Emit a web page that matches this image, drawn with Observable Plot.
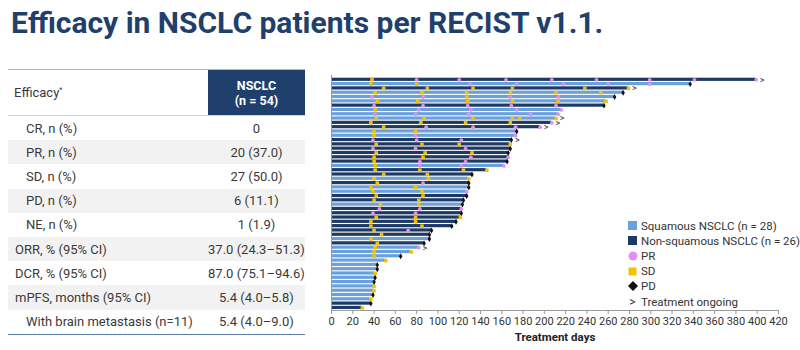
<!DOCTYPE html>
<html>
<head>
<meta charset="utf-8">
<script src="https://cdn.jsdelivr.net/npm/d3@7"></script>
<script src="https://cdn.jsdelivr.net/npm/@observablehq/plot@0.6"></script>
<style>
  html, body { margin: 0; padding: 0; background: #fff; }
  #page { position: relative; width: 800px; height: 350px; overflow: hidden; font-family: Roboto, "Noto Sans", sans-serif; }
  #title { position: absolute; left: 11px; top: 5px; font-size: 30px; font-weight: 700; color: #1f3f6d; letter-spacing: 0px; white-space: nowrap; }
  #tbl { position: absolute; left: 8px; top: 69px; width: 297px; border-collapse: collapse; font-size: 13px; color: #3a3a3a; }
  #tbl td { padding: 0; height: 24.2px; }
  #tbl tr.hdr td { height: 45px; }
  #tbl tr.hdr { border-top: 1px solid #a9b9cc; border-bottom: 1px solid #c9d3df; }
  #tbl tr.last { border-bottom: 1.5px solid #5d7da5; }
  #tbl td.lab { width: 194px; }
  #tbl td.val { width: 103px; text-align: center; }
  #tbl td.hv { background: #1f3f6d; color: #fff; font-weight: 700; font-size: 12.5px; line-height: 15px; text-align: center; }
  #tbl tr.g td { background: #f2f2f2; }
  #chart { position: absolute; left: 300px; top: 70px; }
  #legend { position: absolute; left: 624px; top: 218px; width: 176px; font-size: 11.5px; color: #333; }
  #legend .it { display: flex; align-items: center; height: 15.2px; white-space: nowrap; }
  #legend .sw { width: 17px; flex: none; display: flex; justify-content: center; align-items: center; }
</style>
</head>
<body>
<div id="page">
  <div id="title"></div>
  <table id="tbl"></table>
  <div id="chart"></div>
  <div id="legend"></div>
</div>
<script>
// ---- Table data ----
const tableHeader = ["Efficacy", "NSCLC", "(n = 54)"];
const tableLabels = ["CR, n (%)", "PR, n (%)", "SD, n (%)", "PD, n (%)", "NE, n (%)",
  "ORR, % (95% CI)", "DCR, % (95% CI)", "mPFS, months (95% CI)", "With brain metastasis (n=11)"];
const tableIndent = [1, 1, 1, 1, 1, 0, 0, 0, 1];
const tableValues = ["0", "20 (37.0)", "27 (50.0)", "6 (11.1)", "1 (1.9)",
  "37.0 (24.3\u201351.3)", "87.0 (75.1\u201394.6)", "5.4 (4.0\u20135.8)", "5.4 (4.0\u20139.0)"];

// ---- Swimmer data (top to bottom) ----
// S = squamous, N = non-squamous
const histology = ["N","S","N","S","S","S","N","S","S","S","N","N","S","S","N","N","N","N","N","N",
  "S","N","N","S","N","S","S","N","N","S","N","N","N","N","N","N","N","S","N","S",
  "S","S","S","S","S","S","S","S","S","S","S","S","N","N"];
const lastDay = [399,337,279,274,266,258,256,216,213,211,207,196,174,173,169,168,168,166,166,165,
  162,146,132,129,129,129,127,127,124,123,122,122,121,117,113,94,92,92,87,82,
  75,65,51,43,43,41,41,40,40,40,39,37,37,29];
const ongoing = [1,0,1,0,0,0,0,0,0,1,1,1,0,0,1,0,0,0,0,0,
  0,0,0,0,0,0,0,0,0,0,0,0,0,0,0,0,0,0,0,1,
  0,0,0,0,0,0,0,0,0,0,0,0,0,0];
// assessments: P = PR, S = SD, D = PD, followed by day
const assessments = [
  "S38 P80 P120 P164 P207 P249 P299 P341 P399",
  "S37 S80 P130 P174 P218 P260 P299 D337",
  "S49 S90 S133 S170 S238 S279",
  "S41 S85 S127 S168 S211 S253 D274",
  "P38 P86 S127 P168 P213 D266",
  "S43 S81 S128 S170 S213 S258",
  "P40 P86 P128 P169 P211 D256",
  "S41 P82 P131 P174 P216",
  "P41 P79 P129 P187 P213",
  "S42 S87 S133 S170 S177 S211",
  "S37 S84 S126 S168 P207",
  "S49 P89 P133 P173 P196",
  "S40 S79 D174",
  "S40 P79 P173",
  "P39 P80 P122 D169",
  "S42 S85 S120 S168",
  "P39 P79 P126 D168",
  "S42 S88 S132 D166",
  "S40 S86 P131 P166",
  "S40 P83 P126 D165",
  "S41 P83 P122 P162",
  "S41 S83 S124 S146",
  "S49 S90 D132",
  "S40 S91 S129",
  "S43 P86 D129",
  "S37 S79 D129",
  "S39 S85 P127",
  "S42 S86 D127",
  "S40 S82 D124",
  "S46 S82 D123",
  "P45 P83 P122",
  "P39 P79 D122",
  "S42 S79 S121",
  "S37 S79 D117",
  "S37 S85 D113",
  "S40 P72 D94",
  "S47 D92",
  "S37 D92",
  "S43 D87",
  "S41 P82",
  "S40 S75",
  "S40 D65",
  "S51",
  "D43",
  "D43",
  "S41",
  "D41",
  "D40",
  "S40",
  "S40",
  "D39",
  "S37",
  "D37",
  "S29"
];
const xTicks = [0,20,40,60,80,100,120,140,160,180,200,220,240,260,280,300,320,340,360,380,400,420];
const legendLabels = ["Squamous NSCLC (n = 28)", "Non-squamous NSCLC (n = 26)", "PR", "SD", "PD", "Treatment ongoing"];

// ---- Styles ----
const LIGHT = "#6aa1dc", DARK = "#1e3a64", PRC = "#e58df0", SDC = "#f3c300", PDC = "#111";

// ---- Title ----
document.getElementById("title").textContent = "Efficacy in NSCLC patients per RECIST v1.1.";

// ---- Table ----
const tbl = document.getElementById("tbl");
{
  const tr = document.createElement("tr"); tr.className = "hdr";
  const a = document.createElement("td"); a.className = "lab";
  a.innerHTML = `<span style="padding-left:6px">${tableHeader[0]}<sup style="font-size:7px">*</sup></span>`;
  const b = document.createElement("td"); b.className = "hv";
  b.innerHTML = `${tableHeader[1]}<br>${tableHeader[2]}`;
  tr.append(a, b); tbl.append(tr);
}
tableLabels.forEach((lab, i) => {
  const tr = document.createElement("tr");
  if (i % 2 === 1) tr.className = "g";
  if (i === tableLabels.length - 1) tr.className += " last";
  const a = document.createElement("td"); a.className = "lab";
  a.style.paddingLeft = (tableIndent[i] ? 18 : 7) + "px";
  a.textContent = lab;
  const b = document.createElement("td"); b.className = "val";
  b.textContent = tableValues[i];
  tr.append(a, b); tbl.append(tr);
});

// ---- Chart ----
const rows = lastDay.map((d, i) => ({row: i + 1, hist: histology[i], end: d, ongoing: ongoing[i]}));
const marks = rows.flatMap(r => assessments[r.row - 1].split(" ").map(s => ({row: r.row, type: s[0], day: +s.slice(1)})));

const chart = Plot.plot({
  width: 500,
  height: 280,
  marginLeft: 31,
  marginRight: 22,
  marginTop: 5,
  marginBottom: 40,
  style: {fontFamily: "Roboto, 'Noto Sans', sans-serif", fontSize: "11px", color: "#333", background: "transparent"},
  x: {domain: [0, 420], ticks: xTicks, label: null},
  y: {domain: [54.6, 0], axis: null},
  marks: [
    Plot.rectX(rows, {x1: 0, x2: "end", y1: d => d.row - 0.37, y2: d => d.row + 0.37,
      fill: d => d.hist === "S" ? LIGHT : DARK}),
    Plot.dot(marks.filter(d => d.type === "P"), {x: "day", y: "row", r: 1.9, fill: PRC, stroke: "none"}),
    Plot.dot(marks.filter(d => d.type === "S"), {x: "day", y: "row", r: 2.0, symbol: "square", fill: SDC, stroke: "none"}),
    Plot.dot(marks.filter(d => d.type === "D"), {x: "day", y: "row", r: 1.8, symbol: "diamond", fill: PDC, stroke: "none"}),
    Plot.text(rows.filter(d => d.ongoing), {x: "end", y: "row", text: () => ">", dx: 6, fontSize: 9, fill: "#333"}),
    Plot.ruleX([0], {stroke: "#9a9a9a"}),
    Plot.ruleY([54.6], {stroke: "#9a9a9a"}),
    Plot.axisX({ticks: xTicks, tickSize: 4, tickPadding: 3, stroke: "#9a9a9a", fill: "#333", label: null}),
    Plot.text(["Treatment days"], {frameAnchor: "bottom", dy: 30, text: d => d, fontWeight: "bold", fontSize: 11.5, fill: "#222"})
  ]
});
document.getElementById("chart").append(chart);

// ---- Legend ----
const swatches = [
  `<svg width="9" height="9"><rect width="9" height="9" fill="${LIGHT}"/></svg>`,
  `<svg width="9" height="9"><rect width="9" height="9" fill="${DARK}"/></svg>`,
  `<svg width="10" height="10"><circle cx="5" cy="5" r="4.5" fill="${PRC}"/></svg>`,
  `<svg width="9" height="9"><rect width="8" height="8" x="0.5" y="0.5" fill="${SDC}"/></svg>`,
  `<svg width="10" height="10"><path d="M5 0 L10 5 L5 10 L0 5 Z" fill="${PDC}"/></svg>`,
  `<span style="font-size:12px">&gt;</span>`
];
const lg = document.getElementById("legend");
legendLabels.forEach((t, i) => {
  const it = document.createElement("div"); it.className = "it";
  const sw = document.createElement("div"); sw.className = "sw"; sw.innerHTML = swatches[i];
  const tx = document.createElement("span"); tx.textContent = t;
  it.append(sw, tx); lg.append(it);
});
</script>
</body>
</html>
